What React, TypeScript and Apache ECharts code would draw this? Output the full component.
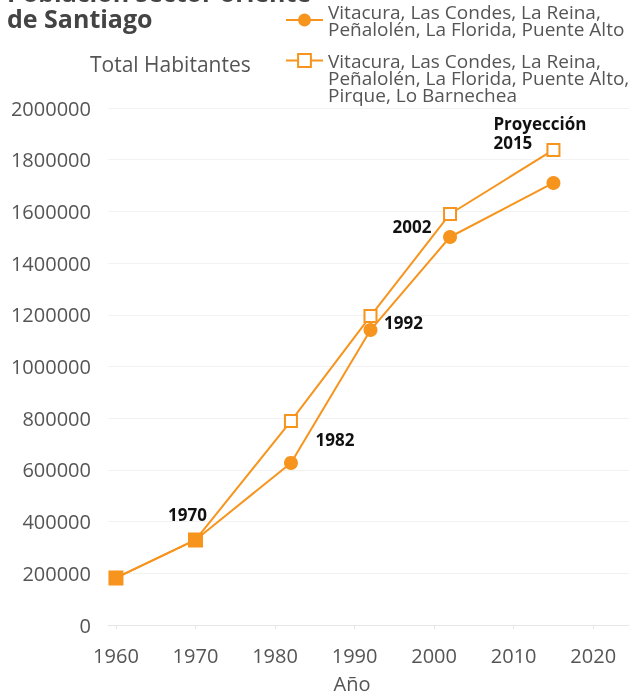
import React, { useEffect, useRef } from "react";
import * as echarts from "echarts";

const years = [1960, 1970, 1982, 1992, 2002, 2015];
const popComunas6 = [182000, 329000, 627000, 1141000, 1501000, 1710000];
const popComunas8 = [182000, 329000, 789000, 1195000, 1590000, 1838000];
const xTicks = [1960, 1970, 1980, 1990, 2000, 2010, 2020];
const seriesNames = [
  "Vitacura, Las Condes, La Reina,\nPeñalolén, La Florida, Puente Alto",
  "Vitacura, Las Condes, La Reina,\nPeñalolén, La Florida, Puente Alto,\nPirque, Lo Barnechea",
];
const titleText = "Población sector oriente\nde Santiago";
const yName = "Total Habitantes";
const xName = "Año";

const COLOR = "#F7941D";
const FONT = "'Open Sans', sans-serif";

const labelBase = {
  show: true,
  position: "inside",
  color: "#111",
  fontWeight: "bold",
  fontSize: 17,
  fontFamily: FONT,
};

// annotation labels: [series index, point index, text, offset, align]
const annotations: [number, number, string, number[], string][] = [
  [1, 1, "1970", [-8, -25], "center"],
  [0, 2, "1982", [44, -23], "center"],
  [0, 3, "1992", [33, -8], "center"],
  [1, 4, "2002", [-38, 13], "center"],
  [1, 5, "Proyección\n2015", [-60, -17], "left"],
];

function buildData(si: number, values: number[]) {
  return years.map((yr, i) => {
    const item: any = { value: [yr, values[i]] };
    if (si === 1 && i < 2) {
      item.symbol = "rect";
      item.symbolSize = 13;
      item.itemStyle = { color: COLOR, borderColor: COLOR, borderWidth: 2 };
    }
    const ann = annotations.find((a) => a[0] === si && a[1] === i);
    if (ann) {
      item.label = {
        ...labelBase,
        formatter: ann[2],
        offset: ann[3],
        align: ann[4],
        lineHeight: 19,
      };
    }
    return item;
  });
}

export default function App() {
  const ref = useRef<HTMLDivElement>(null);
  useEffect(() => {
    if (!ref.current) return;
    const chart = echarts.init(ref.current, undefined, { renderer: "svg" });
    const legendCommon = {
      left: 285,
      orient: "vertical",
      padding: 0,
      itemGap: 0,
      itemWidth: 37,
      itemHeight: 16,
      selectedMode: false,
      textStyle: {
        fontSize: 19,
        lineHeight: 17,
        color: "#555",
        fontFamily: FONT,
      },
    };
    chart.setOption({
      animation: false,
      grid: { left: 108, right: 1, top: 108, bottom: 71 },
      legend: [
        {
          ...legendCommon,
          top: 2,
          data: [seriesNames[0]],
        },
        {
          ...legendCommon,
          top: 17,
          formatter: (name: string) => " \n \n" + name,
          data: [seriesNames[1]],
        },
      ],
      xAxis: {
        type: "value",
        min: 1959,
        max: 2024.5,
        axisLine: { show: true, lineStyle: { color: "#e6e6e6", width: 1 } },
        axisTick: {
          show: true,
          customValues: xTicks,
          length: 4,
          lineStyle: { color: "#e6e6e6" },
        },
        splitLine: { show: false },
        axisLabel: {
          customValues: xTicks,
          fontSize: 20,
          fontFamily: FONT,
          color: "#555",
          margin: 20,
          formatter: (v: number) => String(v),
        },
      },
      yAxis: {
        type: "value",
        min: 0,
        max: 2000000,
        interval: 200000,
        axisLine: { show: false },
        axisTick: { show: false },
        splitLine: { lineStyle: { color: "#f2f2f2", width: 1 } },
        axisLabel: {
          fontSize: 20,
          fontFamily: FONT,
          color: "#555",
          margin: 17,
          formatter: (v: number) => String(v),
        },
      },
      graphic: [
        {
          type: "text",
          x: 7,
          y: -21,
          style: {
            text: titleText,
            fontSize: 25,
            fontWeight: "bold",
            fontFamily: FONT,
            lineHeight: 26,
            fill: "#444",
            verticalAlign: "top",
          },
        },
        {
          type: "text",
          x: 90,
          y: 64,
          style: {
            text: yName,
            fontSize: 21,
            fontFamily: FONT,
            fill: "#555",
            verticalAlign: "middle",
          },
        },
        {
          type: "text",
          x: 352,
          y: 683,
          style: {
            text: xName,
            fontSize: 20,
            fontFamily: FONT,
            fill: "#555",
            align: "center",
            verticalAlign: "middle",
          },
        },
      ],
      series: [
        {
          name: seriesNames[0],
          type: "line",
          symbol: "circle",
          symbolSize: 14,
          showAllSymbol: true,
          lineStyle: { color: COLOR, width: 2 },
          itemStyle: { color: COLOR },
          data: buildData(0, popComunas6),
        },
        {
          name: seriesNames[1],
          type: "line",
          symbol: "emptyRect",
          symbolSize: 12,
          showAllSymbol: true,
          lineStyle: { color: COLOR, width: 2 },
          itemStyle: { color: COLOR, borderColor: COLOR, borderWidth: 2 },
          data: buildData(1, popComunas8),
        },
      ],
    });
    return () => chart.dispose();
  }, []);
  return (
    <div
      ref={ref}
      style={{ position: "fixed", left: 0, top: 0, width: 630, height: 696 }}
    />
  );
}
